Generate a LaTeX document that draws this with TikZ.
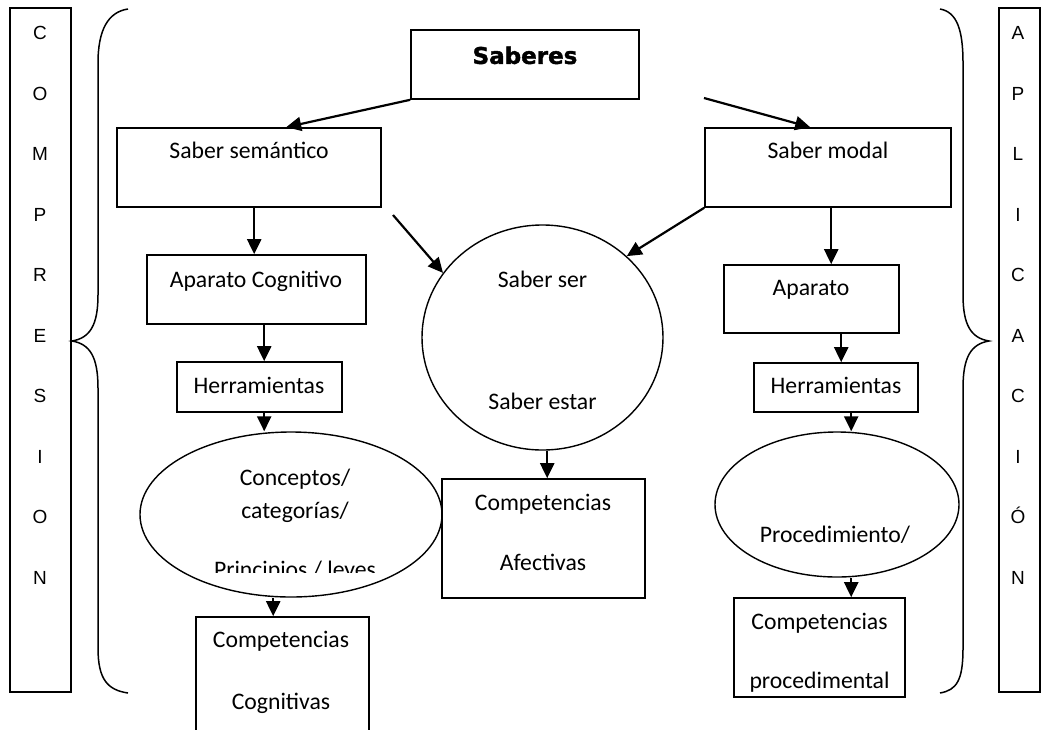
\documentclass[tikz,border=0pt]{standalone}
\usepackage{fontspec}
\setmainfont{Carlito}
\newfontfamily\arialf{Liberation Sans}
\newfontfamily\blackf{DejaVu Sans}[BoldFeatures={FakeBold=1.6}]
\usetikzlibrary{arrows.meta,calc,shapes.geometric}
\begin{document}
\begin{tikzpicture}[x=1pt,y=-1pt,
  box/.style={draw,line width=1.6pt,rectangle,inner sep=0pt},
  oval/.style={draw,line width=1.4pt,ellipse,inner sep=0pt},
  txt/.style={font=\fontsize{23.7}{28}\selectfont,inner sep=0pt,text height=15.3pt,text depth=0pt,anchor=center},
  vlet/.style={font=\arialf\fontsize{19}{21}\selectfont,inner sep=0pt,text height=13.6pt,text depth=0pt,anchor=center},
  brace/.style={line width=1.5pt},
  arr/.style={-{Triangle[length=15pt,width=14pt]},line width=2.2pt}
]
\clip (0,0) rectangle (1041,729);
\fill[white] (0,0) rectangle (1041,729);

% side boxes
\node[box,minimum width=61pt,minimum height=684pt] (lbox) at (40.5,350) {};
\node[box,minimum width=41pt,minimum height=684pt] (rbox) at (1019.5,350) {};
\foreach \l [count=\i from 0] in {C,O,M,P,R,E,S,I,O,N}
  \node[vlet] (lc\i) at (40,33+60.5*\i) {\l};
\foreach \l [count=\i from 0] in {A,P,L,I,C,A,C,I,Ó,N}
  \node[vlet] (rc\i) at (1018,33+60.5*\i) {\l};

% braces
\draw[brace] (128,9) .. controls (108,12) and (98,30) .. (98,63) -- (98,295)
  .. controls (98,325) and (90,338) .. (72,341)
  .. controls (90,344) and (98,357) .. (98,388) -- (98,648)
  .. controls (98,680) and (108,690) .. (128,693);
\draw[brace] (940,9) .. controls (957,12) and (963,30) .. (963,63) -- (963,295)
  .. controls (963,325) and (971,338) .. (989,341)
  .. controls (971,344) and (963,357) .. (963,388) -- (963,648)
  .. controls (963,680) and (957,690) .. (940,693);

% boxes
\node[box,minimum width=228pt,minimum height=69pt] (sab) at (525,64.5) {};
\node[font=\blackf\bfseries\fontsize{23}{26}\selectfont,inner sep=0pt,text height=16.8pt,text depth=0pt] (sabT) at (525,55.5) {Saberes};

\node[box,minimum width=264pt,minimum height=79pt] (sem) at (249,167.5) {};
\node[txt] (semT) at (249,151) {Saber semántico};

\node[box,minimum width=246pt,minimum height=79pt] (modal) at (828,167.5) {};
\node[txt] (modalT) at (828,151) {Saber modal};

\node[oval,minimum width=241pt,minimum height=225pt] (sabser) at (542.5,337.5) {};
\node[txt] (serT) at (542.5,280) {Saber ser};
\node[txt] (estarT) at (542.5,402) {Saber estar};

\node[box,minimum width=219pt,minimum height=69pt] (apcog) at (256.5,289.5) {};
\node[txt] (apcogT) at (256,280) {Aparato Cognitivo};

\node[box,minimum width=175pt,minimum height=68pt] (apar) at (811.5,299) {};
\node[txt] (aparT) at (811,288) {Aparato};

\node[box,minimum width=165pt,minimum height=50pt] (herr1) at (259.5,387) {};
\node[txt] (herr1T) at (259,386) {Herramientas};

\node[box,minimum width=164pt,minimum height=49pt] (herr2) at (836,387.5) {};
\node[txt] (herr2T) at (836,386) {Herramientas};

\node[oval,minimum width=302pt,minimum height=165pt] (ell1) at (291,514.5) {};
\node[txt] (concT) at (295,478) {Conceptos/};
\node[txt] (catT) at (295,511) {categorías/};
\begin{scope}
  \clip (150,540) rectangle (440,572);
  \node[txt] (prinT) at (295,570.3) {Principios / leyes};
\end{scope}

\node[oval,minimum width=244pt,minimum height=145pt] (ell2) at (837,504.5) {};
\node[txt] (procT) at (835,535) {Procedimiento/};

\node[box,minimum width=203pt,minimum height=119pt] (afect) at (543.5,538.5) {};
\node[txt] (afect1T) at (543,503) {Competencias};
\node[txt] (afect2T) at (543,563) {Afectivas};

\node[box,minimum width=173pt,minimum height=123pt] (cogn) at (282.5,678.5) {};
\node[txt] (cogn1T) at (281,640) {Competencias};
\node[txt] (cogn2T) at (281,702) {Cognitivas};

\node[box,minimum width=171pt,minimum height=99pt] (proc) at (819.5,647.5) {};
\node[txt] (proc1T) at (819.5,622) {Competencias};
\node[txt] (proc2T) at (819.5,681) {procedimental};

% connectors
\coordinate (a2s) at (704,98);
\coordinate (a4s) at (393,215);
\draw[arr] (sab.south west) -- ([xshift=170pt]sem.north west);
\draw[arr] (a2s) -- ([xshift=106pt]modal.north west);
\draw[arr] ([xshift=138pt]sem.south west) -- ([xshift=108pt]apcog.north west);
\draw[arr] (a4s) -- (sabser.147);
\draw[arr] (modal.south west) -- (sabser.44);
\draw[arr] ([xshift=127pt]modal.south west) -- ([xshift=108pt]apar.north west);
\draw[arr] ([xshift=118pt]apcog.south west) -- ([xshift=88pt]herr1.north west);
\draw[arr] ([xshift=88pt]herr1.south west) -- ([xshift=88pt]herr1.south west |- ell1.north);
\draw[arr] ([xshift=78pt]cogn.north west |- ell1.south) -- ([xshift=78pt]cogn.north west);
\draw[arr] ([xshift=106pt]afect.north west |- sabser.south) -- ([xshift=106pt]afect.north west);
\draw[arr] ([xshift=118pt]apar.south west) -- ([xshift=88pt]herr2.north west);
\draw[arr] ([xshift=98pt]herr2.south west) -- ([xshift=98pt]herr2.south west |- ell2.north);
\draw[arr] ([xshift=118pt]proc.north west |- ell2.south) -- ([xshift=118pt]proc.north west);
\end{tikzpicture}
\end{document}
